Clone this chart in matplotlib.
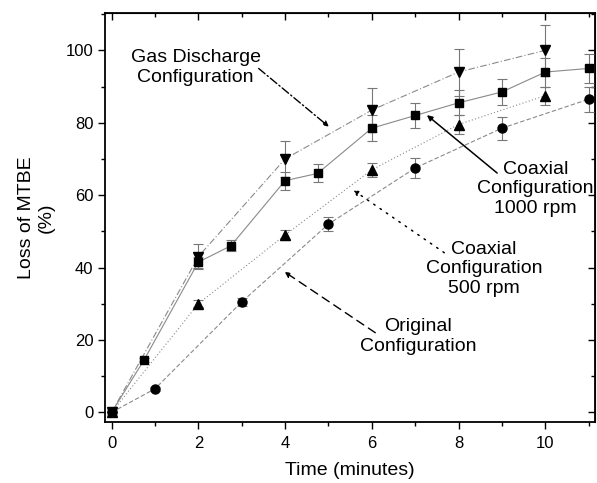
import matplotlib
matplotlib.use("Agg")
from matplotlib import pyplot as plt
from matplotlib.ticker import MultipleLocator

plt.rcParams['font.family'] = ['Liberation Sans', 'DejaVu Sans']

# data
t_gas = [0, 2, 4, 6, 8, 10]
y_gas = [0, 43, 70, 83.5, 94, 100]
e_gas = [0, 3.5, 5, 6, 6.5, 7]

t_c1000 = [0, 0.75, 2, 2.75, 4, 4.75, 6, 7, 8, 9, 10, 11]
y_c1000 = [0, 14.5, 41.5, 46, 64, 66, 78.5, 82, 85.5, 88.5, 94, 95]
e_c1000 = [0, 0.5, 1.5, 1.5, 2.5, 2.5, 3.5, 3.5, 3.5, 3.5, 4, 4]

t_c500 = [0, 2, 4, 6, 8, 10]
y_c500 = [0, 30, 49, 67, 79.5, 87.5]
e_c500 = [0, 1, 1.5, 2, 2.5, 2.5]

t_orig = [0, 1, 3, 5, 7, 9, 11]
y_orig = [0, 6.5, 30.5, 52, 67.5, 78.5, 86.5]
e_orig = [0, 0.5, 1.2, 2, 2.8, 3.2, 3.5]

fig = plt.figure(figsize=(5.97, 4.83), dpi=100)
ax = fig.add_axes([0.176, 0.126, 0.821, 0.847])

line_c = "#8a8a8a"
series = [
    (t_gas, y_gas, e_gas, "v", (0, (6, 2, 1, 2)), 7.5),
    (t_c1000, y_c1000, e_c1000, "s", "-", 6),
    (t_c500, y_c500, e_c500, "^", (0, (1, 2)), 7.5),
    (t_orig, y_orig, e_orig, "o", (0, (4, 2)), 6.5),
]
for t, y, e, m, ls, ms in series:
    ax.plot(t, y, color=line_c, linestyle=ls, linewidth=0.8, zorder=2)
    ax.errorbar(t, y, yerr=e, fmt="none", ecolor="#777777", elinewidth=0.8,
                capsize=3.3, capthick=0.8, zorder=3)
    ax.plot(t, y, linestyle="none", marker=m, color="black", markersize=ms, zorder=4)

ax.set_xlim(-0.15, 11.15)
ax.set_ylim(-2.7, 110.3)
ax.xaxis.set_major_locator(MultipleLocator(2))
ax.xaxis.set_minor_locator(MultipleLocator(1))
ax.yaxis.set_major_locator(MultipleLocator(20))
ax.yaxis.set_minor_locator(MultipleLocator(10))
ax.tick_params(which="both", direction="out", labelsize=12, width=1)
ax.tick_params(axis="x", pad=5)
ax.tick_params(which="major", length=5)
ax.tick_params(which="minor", length=3)
for s in ax.spines.values():
    s.set_linewidth(1.3)

top = ax.secondary_xaxis("top")
top.xaxis.set_major_locator(MultipleLocator(2))
top.xaxis.set_minor_locator(MultipleLocator(1))
top.tick_params(which="both", direction="in", labeltop=False, width=1)
top.tick_params(which="major", length=5)
top.tick_params(which="minor", length=3)
right = ax.secondary_yaxis("right")
right.yaxis.set_major_locator(MultipleLocator(20))
right.yaxis.set_minor_locator(MultipleLocator(10))
right.tick_params(which="both", direction="in", labelright=False, width=1)
right.tick_params(which="major", length=5)
right.tick_params(which="minor", length=3)

ax.set_xlabel("Time (minutes)", fontsize=14, labelpad=8)
ax.set_ylabel("Loss of MTBE\n(%)", fontsize=14, labelpad=8)

fs = 14
ax.text(1.94, 95.3, "Gas Discharge\nConfiguration", ha="center", va="center", fontsize=fs)
ax.annotate("", xy=(5.01, 78.9), xytext=(3.39, 95),
            arrowprops=dict(arrowstyle="-|>", color="black", lw=1, linestyle=(0, (6, 2, 1, 2)),
                            mutation_scale=8, shrinkA=0, shrinkB=0))
ax.text(9.77, 61.7, "Coaxial\nConfiguration\n1000 rpm", ha="center", va="center", fontsize=fs)
ax.annotate("", xy=(7.27, 82.1), xytext=(8.89, 66.1),
            arrowprops=dict(arrowstyle="-|>", color="black", lw=1.1,
                            mutation_scale=8, shrinkA=0, shrinkB=0))
ax.text(8.59, 39.7, "Coaxial\nConfiguration\n500 rpm", ha="center", va="center", fontsize=fs)
ax.annotate("", xy=(5.57, 61.4), xytext=(7.67, 44.1),
            arrowprops=dict(arrowstyle="-|>", color="black", lw=1.1, linestyle=(0, (1, 4)),
                            mutation_scale=8, shrinkA=0, shrinkB=0))
ax.text(7.07, 20.9, "Original\nConfiguration", ha="center", va="center", fontsize=fs)
ax.annotate("", xy=(3.99, 38.8), xytext=(6.08, 22),
            arrowprops=dict(arrowstyle="-|>", color="black", lw=1, linestyle=(0, (6, 4)),
                            mutation_scale=8, shrinkA=0, shrinkB=0))

fig.savefig("out.png", dpi=100)
